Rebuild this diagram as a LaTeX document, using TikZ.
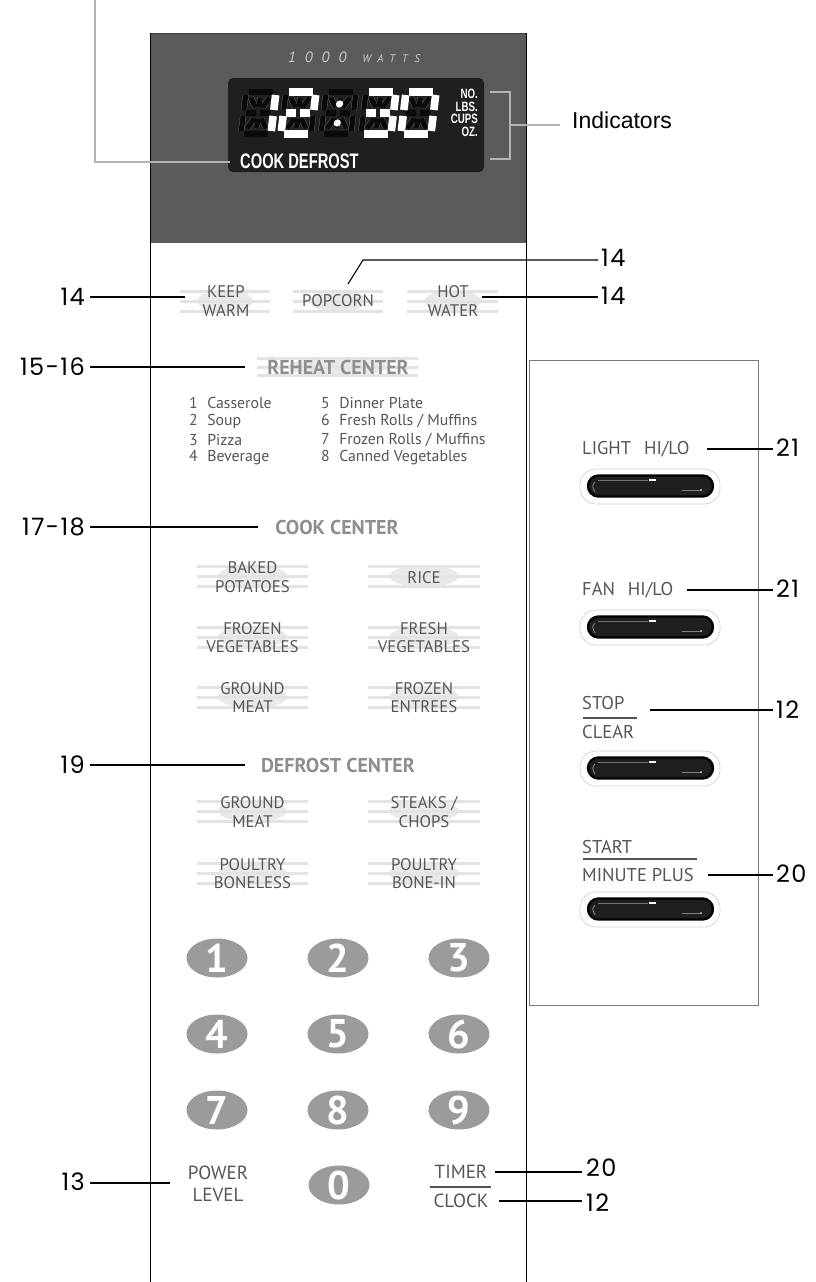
\documentclass[tikz,border=0pt]{standalone}
\usepackage{fontspec}
\usepackage{graphicx}
\setmainfont{PT Sans}
\newfontfamily\numfont[LetterSpace=6]{Poppins}
\newfontfamily\arialfont{Liberation Sans}
\newfontfamily\wattfont[LetterSpace=60]{PT Sans}
\usetikzlibrary{shapes.geometric}
\definecolor{panelgray}{HTML}{5B5B5B}
\definecolor{lcd}{HTML}{1F1F21}
\definecolor{txt}{HTML}{555555}
\definecolor{headc}{HTML}{8E8E8E}
\definecolor{decoc}{HTML}{E3E3E3}
\definecolor{lensc}{HTML}{E9E9E9}
\definecolor{keyc}{HTML}{9B9B9B}
\definecolor{leadgray}{HTML}{B4B4B4}
\definecolor{boxc}{HTML}{7A7A7A}
\definecolor{ghostc}{HTML}{0A0A0A}
\tikzset{
 leader/.style={line width=1.1pt, black},
 gleader/.style={line width=1.4pt, leadgray},
 num/.style={font=\numfont\fontsize{24}{24}\selectfont, inner sep=1pt},
 lbl/.style={font=\fontsize{16.8}{18.5}\selectfont, text=txt, align=center, inner sep=0pt},
 plbl/.style={font=\fontsize{19}{22}\selectfont, text=txt, align=center, inner sep=0pt},
 head/.style={font=\bfseries\fontsize{20}{20}\selectfont, text=headc, inner sep=0pt},
 list/.style={font=\fontsize{15.8}{15.8}\selectfont, text=txt, inner sep=0pt, anchor=west},
 rlbl/.style={font=\fontsize{18.5}{18.5}\selectfont, text=txt, inner sep=0pt, anchor=west},
 keynum/.style={font=\bfseries\fontsize{40}{40}\selectfont, text=white, inner sep=0pt},
 unit/.style={font=\arialfont\bfseries\fontsize{13.5}{13.5}\selectfont, text=white, inner sep=0pt, anchor=east},
 ghostout/.style={line width=6pt, draw=black!60},
 ghostin/.style={line width=5.2pt, draw=ghostc},
 lit/.style={line width=7.6pt, draw=white},
 decoline/.style={line width=3pt, decoc},
 rule/.style={line width=1.6pt, txt},
}
\newcommand\sgA[1]{\draw[#1] (3,0) -- (27,0);}
\newcommand\sgB[1]{\draw[#1] (30,3) -- (30,18);}
\newcommand\sgC[1]{\draw[#1] (30,24) -- (30,39);}
\newcommand\sgD[1]{\draw[#1] (3,42) -- (27,42);}
\newcommand\sgE[1]{\draw[#1] (0,24) -- (0,39);}
\newcommand\sgF[1]{\draw[#1] (0,3) -- (0,18);}
\newcommand\sgG[1]{\draw[#1] (3,21) -- (13,21);}
\newcommand\sgH[1]{\draw[#1] (17,21) -- (27,21);}
\newcommand\sgI[1]{\draw[#1] (5.5,5.5) -- (11.5,15.5);}
\newcommand\sgJ[1]{\draw[#1] (15,5.5) -- (15,15.5);}
\newcommand\sgK[1]{\draw[#1] (24.5,5.5) -- (18.5,15.5);}
\newcommand\sgL[1]{\draw[#1] (11.5,26.5) -- (5.5,36.5);}
\newcommand\sgM[1]{\draw[#1] (15,26.5) -- (15,36.5);}
\newcommand\sgN[1]{\draw[#1] (18.5,26.5) -- (24.5,36.5);}
\newcommand\allsg[1]{\sgA{#1}\sgB{#1}\sgC{#1}\sgD{#1}\sgE{#1}\sgF{#1}\sgG{#1}\sgH{#1}\sgI{#1}\sgJ{#1}\sgK{#1}\sgL{#1}\sgM{#1}\sgN{#1}}
\newcommand\lcdcell[3]{\begin{scope}[shift={(#1,#2)}, xslant=0.12]\allsg{ghostout}\allsg{ghostin}#3\end{scope}}
% decoration: cx, cy, half width, spacing
\newcommand\deco[4]{%
 \fill[lensc] (#1,#2) ellipse [x radius={0.62*#3}, y radius={1.1*#4}];
 \draw[decoline] ({#1-#3},{#2-#4}) -- ({#1+#3},{#2-#4});
 \draw[decoline] ({#1-#3},#2) -- ({#1+#3},#2);
 \draw[decoline] ({#1-#3},{#2+#4}) -- ({#1+#3},{#2+#4});}
\newcommand\rbtn[1]{%
 \draw[black!18, line width=0.7pt, rounded corners=16pt] (580,{#1-17}) rectangle (720,{#1+18});
 \draw[black, fill=black!88, line width=2.4pt, rounded corners=10.5pt] (588,{#1-10.5}) rectangle (713,{#1+10.5});
 \draw[black!55, line width=0.6pt] (598,{#1-6}) -- (648,{#1-6});
 \draw[white, line width=1.3pt] (649,{#1-6}) -- (656,{#1-6});
 \draw[black!50, line width=0.8pt] (682,{#1+4}) -- (701,{#1+4});
 \fill[white!85!black] (701,{#1+4}) circle (1pt);
 \draw[black!45, line width=0.8pt] (595,{#1-4}) .. controls (592,{#1}) .. (595,{#1+6});}
\begin{document}
\begin{tikzpicture}[x=1pt,y=-1pt]
\useasboundingbox (0,0) rectangle (815,1282);
% panel
\fill[panelgray] (150,33) rectangle (526,243);
\draw[black!75, line width=0.8pt] (150,33) -- (526,33);
\draw[black, line width=0.9pt] (150,33) -- (150,1282);
\draw[black, line width=0.9pt] (526,33) -- (526,1282);
% right box
\draw[boxc, line width=1pt] (529,360) rectangle (758,1005);
% lcd
\fill[lcd, rounded corners=5pt] (228,78) rectangle (484,172);
\node[font=\wattfont\itshape\fontsize{15}{15}\selectfont, text=black!20, inner sep=0pt] (watts) at (354,57) {1000\hspace{16pt}{\fontsize{11}{11}\selectfont WATTS}};
\lcdcell{246}{92}{\sgB{lit}\sgC{lit}}
\lcdcell{286}{92}{\sgA{lit}\sgB{lit}\sgG{lit}\sgH{lit}\sgE{lit}\sgD{lit}}
\lcdcell{326}{92}{\fill[white] (15,12) circle (3.6pt); \fill[white] (15,31) circle (3.6pt);}
\lcdcell{366}{92}{\sgA{lit}\sgB{lit}\sgG{lit}\sgH{lit}\sgC{lit}\sgD{lit}}
\lcdcell{406}{92}{\sgA{lit}\sgB{lit}\sgC{lit}\sgD{lit}\sgE{lit}\sgF{lit}}
\node[unit] (uno) at (478,94) {\scalebox{0.72}[1]{NO.}};
\node[unit] (ulbs) at (478,106.5) {\scalebox{0.72}[1]{LBS.}};
\node[unit] (ucups) at (478,119) {\scalebox{0.72}[1]{CUPS}};
\node[unit] (uoz) at (478,131.5) {\scalebox{0.72}[1]{OZ.}};
\node[font=\arialfont\bfseries\fontsize{21}{21}\selectfont, text=white, inner sep=0pt, anchor=west] (cookdef) at (240,161) {\scalebox{0.7}[1]{COOK DEFROST}};
% top-left leader
\coordinate (tltop) at (95,0);
\coordinate (tlcorner) at (95,162);
\draw[gleader] (tltop) -- (tlcorner) -- ([xshift=-10pt]tlcorner -| cookdef.west);
% indicators bracket
\node[font=\arialfont\fontsize{23}{23}\selectfont, anchor=west, inner sep=0pt] (ind) at (572,120) {Indicators};
\coordinate (bt) at (490,92);
\coordinate (bb) at (490,159);
\coordinate (bm) at (510,125);
\draw[gleader] (bt) -- (510,92) -- (510,159) -- (bb);
\draw[gleader] (bm) -- ([xshift=-12pt]bm -| ind.west);
% first row
\deco{225}{301}{45}{10}
\deco{338}{301}{45}{10}
\deco{452.5}{301}{45.5}{10}
\node[lbl] (kw) at (226,301) {KEEP\\WARM};
\node[lbl] (pc) at (338,301) {POPCORN};
\node[lbl] (hw) at (453,301) {HOT\\WATER};
\node[num, anchor=east] (n14a) at (86,297) {14};
\node[num, anchor=west] (n14b) at (600,258) {14};
\node[num, anchor=west] (n14c) at (600,296) {14};
\coordinate (kwend) at (185,297);
\coordinate (pcend) at (348,284);
\coordinate (pcbend) at (363,260);
\coordinate (hwend) at (482,297);
\draw[leader] ([xshift=4pt]n14a.east) -- (kwend);
\draw[leader] (pcend) -- (pcbend) -- ([xshift=-2pt]pcbend -| n14b.west);
\draw[leader] (hwend) -- ([xshift=-2pt]hwend -| n14c.west);
% reheat
\deco{337.5}{367}{80.5}{8.5}
\node[head] (reheat) at (338,367) {REHEAT CENTER};
\node[num, anchor=east] (n1516) at (86,367) {15-16};
\coordinate (rhend) at (245,367);
\draw[leader] ([xshift=4pt]n1516.east) -- (rhend);
\node[list] (r1) at (189,403) {1\hspace{0.6em}Casserole};
\node[list] (r2) at (189,421.3) {2\hspace{0.6em}Soup};
\node[list] (r3) at (189,439.6) {3\hspace{0.6em}Pizza};
\node[list] (r4) at (189,457.9) {4\hspace{0.6em}Beverage};
\node[list] (r5) at (321,403) {5\hspace{0.6em}Dinner Plate};
\node[list] (r6) at (321,421.3) {6\hspace{0.6em}Fresh Rolls / Muffins};
\node[list] (r7) at (321,439.6) {7\hspace{0.6em}Frozen Rolls / Muffins};
\node[list] (r8) at (321,457.9) {8\hspace{0.6em}Canned Vegetables};
% cook center
\node[head] (cook) at (337,527) {COOK CENTER};
\node[num, anchor=east] (n1718) at (86,527) {17-18};
\coordinate (ckend) at (258,527);
\draw[leader] ([xshift=4pt]n1718.east) -- (ckend);
\deco{252.5}{576}{55.5}{10}
\deco{424}{576}{56}{10}
\deco{252.5}{637}{55.5}{10}
\deco{424}{637}{56}{10}
\deco{252.5}{697}{55.5}{10}
\deco{424}{697}{56}{10}
\node[lbl] (bp) at (252.5,577) {BAKED\\POTATOES};
\node[lbl] (rice) at (424,578) {RICE};
\node[lbl] (fzv) at (252.5,637.5) {FROZEN\\VEGETABLES};
\node[lbl] (frv) at (424,637.5) {FRESH\\VEGETABLES};
\node[lbl] (gm1) at (252.5,697.5) {GROUND\\MEAT};
\node[lbl] (fze) at (424,697.5) {FROZEN\\ENTREES};
% defrost center
\node[head] (defrost) at (338,765) {DEFROST CENTER};
\node[num, anchor=east] (n19) at (86,765) {19};
\coordinate (dfend) at (245,765);
\draw[leader] ([xshift=4pt]n19.east) -- (dfend);
\deco{252.5}{811}{55.5}{10}
\deco{424}{811}{56}{10}
\deco{252.5}{873}{55.5}{10}
\deco{424}{873}{56}{10}
\node[lbl] (gm2) at (252.5,812) {GROUND\\MEAT};
\node[lbl] (stk) at (424,812) {STEAKS /\\CHOPS};
\node[lbl] (pb) at (252.5,873.5) {POULTRY\\BONELESS};
\node[lbl] (pbi) at (424,873.5) {POULTRY\\BONE-IN};
% keypad
\foreach \d/\kx/\ky in {1/217/958,2/338/958,3/459/958,4/217/1034,5/338/1034,6/459/1034,7/217/1110,8/338/1110,9/459/1110,0/339/1185}{
 \fill[keyc] (\kx,\ky) ellipse [x radius=30.5, y radius=19.5];
 \node[keynum] (k\d) at (\kx,\ky) {\d};
}
% power level, timer clock
\node[plbl] (pl) at (218,1184) {POWER\\LEVEL};
\node[num, anchor=east] (n13) at (86,1182) {13};
\coordinate (plend) at (170,1183);
\draw[leader] ([xshift=4pt]n13.east |- plend) -- (plend);
\node[plbl] (timer) at (461,1172) {TIMER};
\node[plbl] (clock) at (461,1201) {CLOCK};
\draw[rule] (430,1187) -- (491,1187);
\node[num, anchor=west] (n20b) at (585,1168) {20};
\node[num, anchor=west] (n12b) at (585,1203) {12};
\coordinate (tmend) at (495,1172);
\coordinate (clend) at (499,1201);
\draw[leader] (tmend) -- ([xshift=-3pt]tmend -| n20b.west);
\draw[leader] (clend) -- ([xshift=-3pt]clend -| n12b.west);
% right panel
\node[rlbl] (light) at (582,449) {LIGHT\hspace{0.7em}HI/LO};
\node[num, anchor=west] (n21a) at (775,448) {21};
\coordinate (lgend) at (707,449);
\draw[leader] (lgend) -- ([xshift=-2pt]lgend -| n21a.west);
\rbtn{486}
\node[rlbl] (fan) at (582,590) {FAN\hspace{0.7em}HI/LO};
\node[num, anchor=west] (n21b) at (775,589) {21};
\coordinate (fnend) at (687,590);
\draw[leader] (fnend) -- ([xshift=-2pt]fnend -| n21b.west);
\rbtn{627}
\node[rlbl] (stop) at (582,703) {STOP};
\draw[rule] (583,718) -- (637,718);
\node[rlbl] (clear) at (582,732) {CLEAR};
\node[num, anchor=west] (n12a) at (775,710) {12};
\coordinate (stend) at (650,710);
\draw[leader] (stend) -- ([xshift=-2pt]stend -| n12a.west);
\rbtn{768}
\node[rlbl] (start) at (582,847) {START};
\draw[rule] (583,859) -- (697,859);
\node[rlbl] (minplus) at (582,875) {MINUTE PLUS};
\node[num, anchor=west] (n20a) at (775,874) {20};
\coordinate (mpend) at (708,875);
\draw[leader] (mpend) -- ([xshift=-2pt]mpend -| n20a.west);
\rbtn{909}
\end{tikzpicture}
\end{document}
